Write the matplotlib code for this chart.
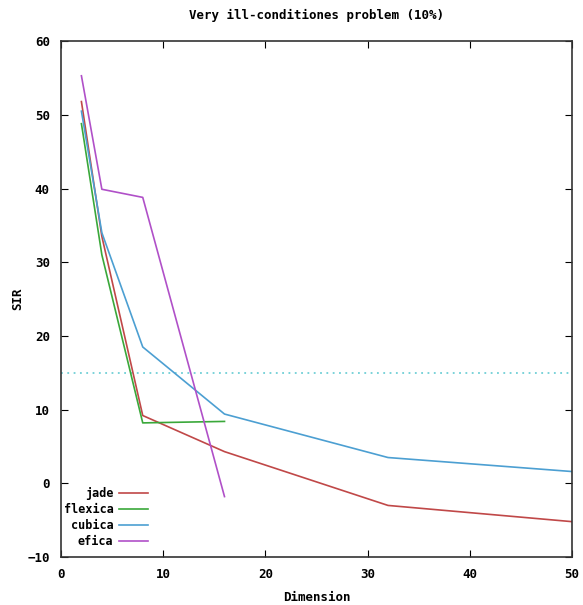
import matplotlib
matplotlib.use("Agg")
import matplotlib.pyplot as plt

# values
jade_x = [2, 4, 8, 16, 32, 50]
jade_y = [51.8, 33.5, 9.2, 4.3, -3.0, -5.2]
flexica_x = [2, 4, 8, 12, 16]
flexica_y = [48.8, 31.0, 8.2, 8.3, 8.4]
cubica_x = [2, 4, 8, 16, 32, 50]
cubica_y = [50.5, 34.0, 18.5, 9.4, 3.5, 1.6]
efica_x = [2, 4, 8, 16]
efica_y = [55.3, 39.9, 38.8, -1.8]
threshold = 15

font = "DejaVu Sans Mono"
plt.rcParams["font.family"] = font
plt.rcParams["font.weight"] = "bold"

fig = plt.figure(figsize=(5.83, 6.05), dpi=100)
ax = fig.add_axes([0.1046, 0.0793, 0.8765, 0.8527])

ax.axhline(threshold, color="#6fcfd6", lw=1.3, ls=(0, (1, 2.5)))
ax.plot(jade_x, jade_y, color="#c04848", lw=1.2, label="jade")
ax.plot(flexica_x, flexica_y, color="#3aa83a", lw=1.2, label="flexica")
ax.plot(cubica_x, cubica_y, color="#4c9fd2", lw=1.2, label="cubica")
ax.plot(efica_x, efica_y, color="#b050c8", lw=1.2, label="efica")

ax.set_xlim(0, 50)
ax.set_ylim(-10, 60)
ax.set_xticks(range(0, 51, 10))
ax.set_yticks(range(-10, 61, 10))
ax.tick_params(direction="in", top=True, right=True, length=5, labelsize=9, pad=8)
for s in ax.spines.values():
    s.set_linewidth(1.2)
    s.set_color("#333333")

ax.set_title("Very ill-conditiones problem (10%)", fontsize=9, fontweight="bold", pad=16)
ax.set_xlabel("Dimension", fontsize=9, fontweight="bold", va="center")
ax.set_ylabel("SIR", fontsize=9, fontweight="bold", va="center")
ax.xaxis.set_label_coords(0.5, -0.078)
ax.yaxis.set_label_coords(-0.084, 0.5)

ax.legend(loc="lower left", bbox_to_anchor=(-0.012, 0.0), frameon=False,
          markerfirst=False, alignment="right", handlelength=2.4,
          handletextpad=0.5, labelspacing=0.25,
          borderaxespad=0.35, prop={"size": 8.5, "weight": "bold"})

fig.savefig("out.png", dpi=100)
